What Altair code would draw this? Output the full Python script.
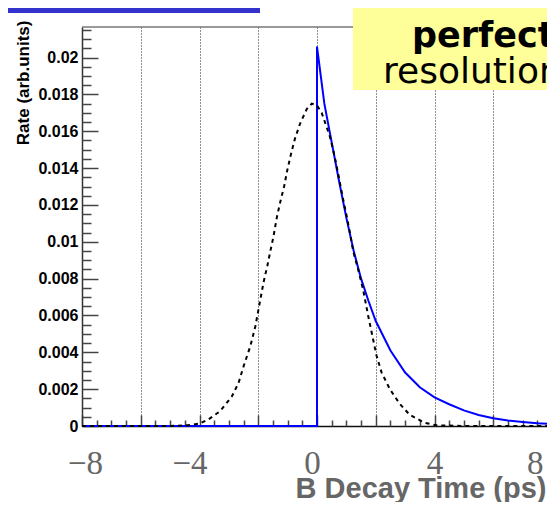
import altair as alt
import pandas as pd

# ---------------- data ----------------
# perfect resolution: pure exponential decay starting at t = 0
blue_t = [-8, 0, 0, 0.25, 0.5, 0.75, 1.0, 1.25, 1.5, 1.75, 2.0, 2.5, 3.0, 3.5,
          4.0, 4.5, 5.0, 5.5, 6.0, 6.5, 7.0, 7.5, 8.0]
blue_v = [0, 0, 0.0206, 0.0175, 0.0154, 0.0133, 0.0113, 0.0095, 0.0080, 0.0068,
          0.0057, 0.0041, 0.0029, 0.0021, 0.00155, 0.00118, 0.00085, 0.00060,
          0.00042, 0.00030, 0.00022, 0.00015, 0.00010]

# smeared distribution (dashed)
dash_t = [-8, -5, -4.4, -4.0, -3.7, -3.3, -2.9, -2.67, -2.5, -2.27, -2.1, -1.96,
          -1.82, -1.69, -1.6, -1.48, -1.37, -1.26, -1.12, -1.01, -0.88, -0.75,
          -0.58, -0.35, -0.18, 0.0, 0.16, 0.27, 0.44, 0.55, 0.67, 0.78, 0.89,
          1.01, 1.12, 1.23, 1.40, 1.57, 1.74, 1.91, 2.03, 2.20, 2.48, 2.82,
          3.16, 3.67, 4.06, 5.0, 8.0]
dash_v = [0, 0, 0.00004, 0.00013, 0.00035, 0.0008, 0.0016, 0.00234, 0.00324,
          0.00433, 0.0054, 0.0066, 0.0078, 0.0087, 0.0094, 0.0103, 0.0113,
          0.0121, 0.0130, 0.0139, 0.0148, 0.0156, 0.0164, 0.0172, 0.0175,
          0.0174, 0.0170, 0.0165, 0.0157, 0.0150, 0.0141, 0.0132, 0.0123,
          0.0114, 0.0105, 0.0095, 0.0085, 0.0074, 0.0060, 0.0047, 0.0038,
          0.0029, 0.0020, 0.0012, 0.0006, 0.00017, 0.00004, 0, 0]

x_major = [-8, -6, -4, -2, 0, 2, 4, 6, 8]
x_minor = [i / 2 for i in range(-16, 17)]
y_major = [0, 0.002, 0.004, 0.006, 0.008, 0.01, 0.012, 0.014, 0.016, 0.018, 0.02]
y_minor = [i * 0.0005 for i in range(0, 44)]

x_title = "B Decay Time (ps)"
y_title = "Rate (arb.units)"
box_lines = ["perfect", "resolution"]

W, H = 465, 399      # visible view width (svg is clipped at the page edge)
XR = 470             # pixel length of the x scale (frame runs to the page edge)

df_blue = pd.DataFrame({"t": blue_t, "v": blue_v, "i": list(range(len(blue_t)))})
df_dash = pd.DataFrame({"t": dash_t, "v": dash_v})
one = pd.DataFrame({"a": [0]})

xscale = alt.Scale(domain=[-8, 8], range=[0, XR], nice=False, zero=False)
yscale = alt.Scale(domain=[0, 0.02166], nice=False, zero=False)

main_x_axis = alt.Axis(
    orient="bottom", values=x_major, ticks=False, tickSize=0,
    grid=True, gridDash=[1, 2], gridColor="#222222", gridWidth=1,
    domain=True, domainColor="#111111", domainWidth=1.5,
    labelExpr="datum.value % 4 != 0 ? '' : (datum.value < 0 ? '−' + abs(datum.value) : '' + datum.value)",
    labelFont="Liberation Serif", labelFontSize=33, labelColor="#666666",
    labelFlush=False, labelBaseline="alphabetic", labelPadding=47,
    labelAlign={"condition": {"test": "datum.value == 8", "value": "right"}, "value": "center"},
    labelOffset={"condition": [{"test": "datum.value == -4", "value": -10},
                               {"test": "datum.value == 0", "value": -5},
                               {"test": "datum.value == -8", "value": 3},
                               {"test": "datum.value == 8", "value": -9}],
                 "value": 0},
    title=x_title, titleFont="Liberation Sans", titleFontSize=29,
    titleFontWeight="bold", titleColor="#666666", titleAnchor="end",
    titleAlign="right", titleBaseline="alphabetic", titleX=464, titleY=71,
)

main_y_axis = alt.Axis(
    orient="left", values=y_major, ticks=False, tickSize=0, grid=False,
    domain=True, domainColor="#333333", domainWidth=1.5,
    labelExpr="'' + datum.value",
    labelFont="Liberation Sans", labelFontSize=16, labelFontWeight="bold",
    labelColor="#000000", labelPadding=4, labelFlush=False,
    title=y_title, titleFont="Liberation Sans", titleFontSize=17,
    titleFontWeight="bold", titleColor="#000000", titleAngle=-90,
    titleAlign="right", titleBaseline="alphabetic", titleX=-54, titleY=-7,
)

tick_x_axis = alt.Axis(
    orient="top", offset=-H, values=x_minor, labels=False, domain=False,
    grid=False, ticks=True, tickColor="#444444", tickWidth=1.5,
    tickSize={"condition": {"test": "datum.value % 2 == 0", "value": 11}, "value": 6},
    title=None,
)

tick_y_axis = alt.Axis(
    orient="right", offset=-W, values=y_minor, labels=False, domain=False,
    grid=False, ticks=True, tickColor="#444444", tickWidth=1.5,
    tickSize={"condition": {"test": "abs(datum.value / 0.002 - round(datum.value / 0.002)) < 0.01", "value": 16}, "value": 9},
    title=None,
)

frame_top = alt.Chart(one).mark_rule(color="#777777", strokeWidth=1.5).encode(
    x=alt.value(0), x2=alt.value(XR), y=alt.value(0))
frame_right = alt.Chart(one).mark_rule(color="#777777", strokeWidth=1.5).encode(
    x=alt.value(XR), y=alt.value(0), y2=alt.value(H))

blue = alt.Chart(df_blue).mark_line(color="#0000ff", strokeWidth=2).encode(
    x=alt.X("t:Q", scale=xscale, axis=main_x_axis),
    y=alt.Y("v:Q", scale=yscale, axis=main_y_axis),
    order=alt.Order("i:Q"),
)

dashed = alt.Chart(df_dash).mark_line(color="#000000", strokeWidth=2, strokeDash=[4, 4]).encode(
    x=alt.X("t:Q", scale=xscale, axis=tick_x_axis),
    y=alt.Y("v:Q", scale=yscale, axis=tick_y_axis),
)

box = alt.Chart(one).mark_rect(color="#ffff99").encode(
    x=alt.value(271), x2=alt.value(480), y=alt.value(-19), y2=alt.value(63))

txt1 = alt.Chart(one).mark_text(
    align="left", baseline="alphabetic", font="Comic Sans MS, DejaVu Sans",
    fontSize=35, fontWeight="bold", color="#000000").encode(
    x=alt.value(330), y=alt.value(20), text=alt.value(box_lines[0]))
txt2 = alt.Chart(one).mark_text(
    align="left", baseline="alphabetic", font="Comic Sans MS, DejaVu Sans",
    fontSize=36, fontWeight="normal", color="#000000").encode(
    x=alt.value(301), y=alt.value(56), text=alt.value(box_lines[1]))

top_bar = alt.Chart(one).mark_rect(color="#3333cc").encode(
    x=alt.value(-74), x2=alt.value(178), y=alt.value(-19), y2=alt.value(-14))

chart = alt.layer(
    frame_top, frame_right, blue, dashed, box, txt1, txt2, top_bar
).properties(
    width=W, height=H,
    autosize=alt.AutoSizeParams(type="none"),
    padding={"left": 74, "top": 19, "right": 0, "bottom": 76},
    background="white",
).configure_view(stroke=None)

chart.save("out.html", embed_options={"renderer": "svg", "actions": False})
